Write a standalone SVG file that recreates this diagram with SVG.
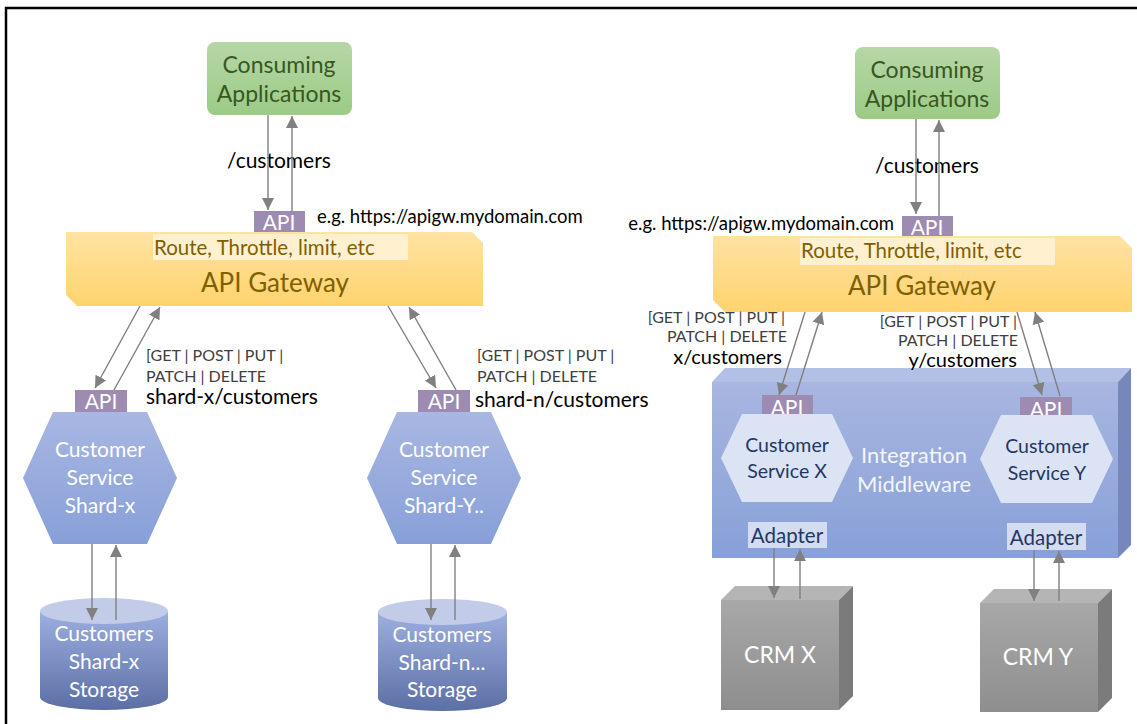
<svg xmlns="http://www.w3.org/2000/svg" width="1137" height="724" viewBox="0 0 1137 724">
<defs>
<linearGradient id="gGreen" x1="0" y1="0" x2="0" y2="1"><stop offset="0" stop-color="#b6d7a6"/><stop offset="1" stop-color="#9ccb86"/></linearGradient>
<linearGradient id="gGw" x1="0" y1="0" x2="0" y2="1"><stop offset="0" stop-color="#ffe3a3"/><stop offset="1" stop-color="#ffd36e"/></linearGradient>
<linearGradient id="gHex" x1="0" y1="0" x2="0" y2="1"><stop offset="0" stop-color="#a9b7e2"/><stop offset="1" stop-color="#879fd8"/></linearGradient>
<linearGradient id="gCyl" x1="0" y1="0" x2="0" y2="1"><stop offset="0" stop-color="#9dafe0"/><stop offset="1" stop-color="#5c6fa5"/></linearGradient>
<linearGradient id="gMid" x1="0" y1="0" x2="0" y2="1"><stop offset="0" stop-color="#a8b6e0"/><stop offset="1" stop-color="#88a0d8"/></linearGradient>
<linearGradient id="gCrm" x1="0" y1="0" x2="0" y2="1"><stop offset="0" stop-color="#a8a8a8"/><stop offset="1" stop-color="#8e8e8e"/></linearGradient>
<marker id="ah" markerUnits="userSpaceOnUse" markerWidth="12" markerHeight="12" viewBox="0 0 12 12" refX="12" refY="6" orient="auto">
<path d="M0,0 L12,6 L0,12 z" fill="#808080"/>
</marker>
</defs>
<style>
text{font-family:Lato,"Liberation Sans",sans-serif}
.c{text-anchor:middle}
.e{text-anchor:end}
.cons{font-size:23px;fill:#385723}
.path{font-size:21px;fill:#000}
.url{font-size:18.5px;fill:#000}
.api{fill:#9d8bb1}
.apit{font-size:21px;fill:#fff}
.route{fill:#fff1d0}
.routet{font-size:20.5px;fill:#7f6000}
.gwt{font-size:26px;fill:#7f6000}
.verb{font-size:16px;fill:#404040}
.wt{font-size:21px;fill:#fff}
.dk{font-size:19.5px;fill:#1f3864}
.con{stroke:#808080;stroke-width:1.4;fill:none;marker-end:url(#ah)}
</style>
<rect x="6" y="8" width="1300" height="900" fill="#fff" stroke="#000" stroke-width="2.5"/>

<g id="consuming-left">
<rect x="207" y="42" width="145" height="73" rx="8" fill="url(#gGreen)"/>
<text class="cons c" x="279" y="73">Consuming</text>
<text class="cons c" x="279" y="102">Applications</text>
</g>
<g id="api-gw-left">
<rect class="api" x="254" y="211" width="51" height="21"/>
<text class="apit c" x="279" y="230">API</text>
</g>
<g id="gateway-left">
<polygon points="66,232 472,232 483,243 483,306 77,306 66,295" fill="url(#gGw)"/>
<rect class="route" x="153" y="234" width="255" height="26"/>
<text class="routet" x="154" y="255">Route, Throttle, limit, etc</text>
<text class="gwt c" x="275" y="292">API Gateway</text>
</g>
<text class="url" x="317" y="223">e.g. https://apigw.mydomain.com</text>
<text class="path c" x="279" y="168">/customers</text>

<g id="shard-x-service">
<rect class="api" x="75" y="390" width="52" height="22"/>
<text class="apit c" x="101" y="409">API</text>
<polygon points="23,478 53,412 147,412 177,478 147,544 53,544" fill="url(#gHex)"/>
<text class="wt c" x="100" y="457">Customer</text>
<text class="wt c" x="100" y="485">Service</text>
<text class="wt c" x="100" y="513">Shard-x</text>
</g>
<g id="shard-x-storage">
<path d="M40,611 L40,697 A64,13 0 0 0 168,697 L168,611 Z" fill="url(#gCyl)"/>
<ellipse cx="104" cy="611" rx="64" ry="13" fill="#c2cce9"/>
<text class="wt c" x="104" y="641">Customers</text>
<text class="wt c" x="104" y="669">Shard-x</text>
<text class="wt c" x="104" y="697">Storage</text>
</g>
<text class="verb" x="146" y="361">[GET | POST | PUT |</text>
<text class="verb" x="146" y="382">PATCH | DELETE</text>
<text class="path" x="146" y="404">shard-x/customers</text>

<g id="shard-n-service">
<rect class="api" x="418" y="390" width="52" height="22"/>
<text class="apit c" x="444" y="409">API</text>
<polygon points="367,478 397,412 491,412 521,478 491,544 397,544" fill="url(#gHex)"/>
<text class="wt c" x="444" y="457">Customer</text>
<text class="wt c" x="444" y="485">Service</text>
<text class="wt c" x="444" y="513">Shard-Y..</text>
</g>
<g id="shard-n-storage">
<path d="M378,612 L378,698 A64,13 0 0 0 507,698 L507,612 Z" fill="url(#gCyl)"/>
<ellipse cx="442.5" cy="612" rx="64.5" ry="13" fill="#c2cce9"/>
<text class="wt c" x="442" y="642">Customers</text>
<text class="wt c" x="442" y="670">Shard-n...</text>
<text class="wt c" x="442" y="697">Storage</text>
</g>
<text class="verb" x="477" y="361">[GET | POST | PUT |</text>
<text class="verb" x="477" y="382">PATCH | DELETE</text>
<text class="path" x="475" y="407">shard-n/customers</text>

<g id="consuming-right">
<rect x="855" y="47" width="145" height="72" rx="8" fill="url(#gGreen)"/>
<text class="cons c" x="927" y="78">Consuming</text>
<text class="cons c" x="927" y="107">Applications</text>
</g>
<g id="api-gw-right">
<rect class="api" x="902" y="216" width="51" height="21"/>
<text class="apit c" x="927" y="235">API</text>
</g>
<g id="gateway-right">
<polygon points="713,236 1120,236 1132,248 1132,312 725,312 713,300" fill="url(#gGw)"/>
<rect class="route" x="800" y="238" width="255" height="27"/>
<text class="routet" x="801" y="258">Route, Throttle, limit, etc</text>
<text class="gwt c" x="922" y="295">API Gateway</text>
</g>
<text class="url e" x="894" y="230">e.g. https://apigw.mydomain.com</text>
<text class="path c" x="927" y="173">/customers</text>

<g id="middleware">
<polygon points="712,382 725,368 1131,368 1118,382" fill="#b3c0e6"/>
<polygon points="1118,382 1131,368 1131,545 1118,558" fill="#7587bb"/>
<rect x="712" y="382" width="406" height="176" fill="url(#gMid)"/>
<text class="c" x="914" y="463" style="font-size:22px;fill:#f2f5fc">Integration</text>
<text class="c" x="914" y="492" style="font-size:22px;fill:#f2f5fc">Middleware</text>
</g>
<g id="customer-service-x">
<rect class="api" x="762" y="395" width="51" height="22"/>
<text class="apit c" x="787" y="415">API</text>
<polygon points="721,458 742,414 832,414 853,458 832,502 742,502" fill="#dbe3f4"/>
<text class="dk c" x="787" y="452">Customer</text>
<text class="dk c" x="787" y="478">Service X</text>
</g>
<g id="customer-service-y">
<rect class="api" x="1020" y="397" width="52" height="22"/>
<text class="apit c" x="1046" y="417">API</text>
<polygon points="980,459 1001,415 1092,415 1113,459 1092,503 1001,503" fill="#dbe3f4"/>
<text class="dk c" x="1047" y="453">Customer</text>
<text class="dk c" x="1047" y="480">Service Y</text>
</g>
<g id="adapter-x">
<rect x="748" y="522" width="79" height="26" fill="#d3dcf1"/>
<text class="c" x="787" y="543" style="font-size:20.5px;fill:#1f3864">Adapter</text>
</g>
<g id="adapter-y">
<rect x="1007" y="523" width="79" height="27" fill="#d3dcf1"/>
<text class="c" x="1046" y="545" style="font-size:20.5px;fill:#1f3864">Adapter</text>
</g>
<text class="verb e" x="785" y="323">[GET | POST | PUT |</text>
<text class="verb e" x="787" y="342">PATCH | DELETE</text>
<text class="path e" x="782" y="364" style="font-size:20px">x/customers</text>
<text class="verb e" x="1017" y="327">[GET | POST | PUT |</text>
<text class="verb e" x="1018" y="346">PATCH | DELETE</text>
<text class="path e" x="1017" y="367" style="font-size:20px">y/customers</text>

<g id="crm-x">
<polygon points="721,600 735,586 853,586 839,600" fill="#b5b5b5"/>
<polygon points="839,600 853,586 853,696 839,710" fill="#7b7b7b"/>
<rect x="721" y="600" width="118" height="110" fill="url(#gCrm)"/>
<text class="c" x="780" y="663" style="font-size:23px;fill:#fff">CRM X</text>
</g>
<g id="crm-y">
<polygon points="980,603 994,589 1112,589 1098,603" fill="#b5b5b5"/>
<polygon points="1098,603 1112,589 1112,698 1098,712" fill="#7b7b7b"/>
<rect x="980" y="603" width="118" height="109" fill="url(#gCrm)"/>
<text class="c" x="1038" y="665" style="font-size:23px;fill:#fff">CRM Y</text>
</g>

<g id="connectors">
<line class="con" x1="268" y1="115" x2="268" y2="210"/>
<line class="con" x1="292" y1="211" x2="292" y2="116"/>
<line class="con" x1="140" y1="306" x2="95" y2="388"/>
<line class="con" x1="114" y1="390" x2="160" y2="307"/>
<line class="con" x1="388" y1="306" x2="436" y2="388"/>
<line class="con" x1="456" y1="390" x2="409" y2="307"/>
<line class="con" x1="92" y1="544" x2="92" y2="620"/>
<line class="con" x1="116" y1="620" x2="116" y2="545"/>
<line class="con" x1="431" y1="544" x2="431" y2="620"/>
<line class="con" x1="455" y1="620" x2="455" y2="545"/>
<line class="con" x1="916" y1="119" x2="916" y2="214"/>
<line class="con" x1="939" y1="216" x2="939" y2="120"/>
<line class="con" x1="805" y1="312" x2="779" y2="395"/>
<line class="con" x1="796" y1="395" x2="822" y2="312"/>
<line class="con" x1="1017" y1="312" x2="1042" y2="395"/>
<line class="con" x1="1060" y1="396" x2="1035" y2="312"/>
<line class="con" x1="774" y1="548" x2="774" y2="598"/>
<line class="con" x1="800" y1="599" x2="800" y2="549"/>
<line class="con" x1="1034" y1="550" x2="1034" y2="601"/>
<line class="con" x1="1059" y1="601" x2="1059" y2="551"/>
</g>
</svg>
